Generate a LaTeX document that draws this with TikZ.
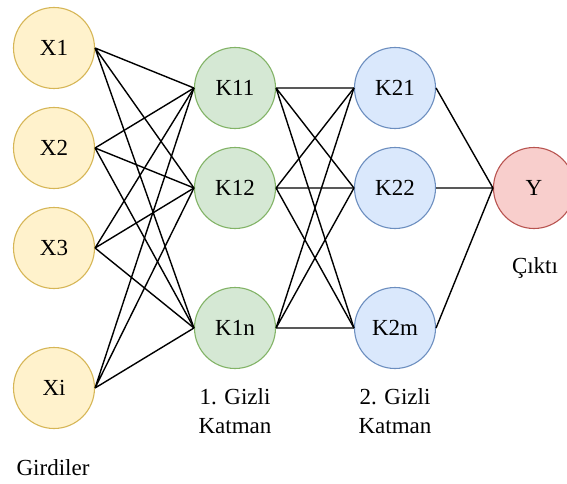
\documentclass[tikz,border=0pt]{standalone}
\usepackage{fontspec}
\setmainfont{Liberation Serif}
\usepackage{tikz}
\usetikzlibrary{calc}

\definecolor{inpfill}{HTML}{FFF2CC}
\definecolor{inpline}{HTML}{D6B656}
\definecolor{hidafill}{HTML}{D5E8D4}
\definecolor{hidaline}{HTML}{82B366}
\definecolor{hidbfill}{HTML}{DAE8FC}
\definecolor{hidbline}{HTML}{6C8EBF}
\definecolor{outfill}{HTML}{F8CECC}
\definecolor{outline}{HTML}{B85450}

\tikzset{
	neuron/.style={circle, minimum size=81pt, inner sep=0pt, line width=1.1pt, font=\fontsize{23}{26}\selectfont},
	inpnode/.style={neuron, draw=inpline, fill=inpfill},
	hidanode/.style={neuron, draw=hidaline, fill=hidafill},
	hidbnode/.style={neuron, draw=hidbline, fill=hidbfill},
	outnode/.style={neuron, draw=outline, fill=outfill},
	layertext/.style={align=center, font=\fontsize{23}{29}\selectfont},
	wire/.style={line width=1.4pt, black}
}

\begin{document}
\begin{tikzpicture}[x=1pt, y=-1pt]
		\useasboundingbox (0,0) rectangle (567,484);
		\node[inpnode] (X1) at (54,48) {X1};
		\node[inpnode] (X2) at (54,148) {X2};
		\node[inpnode] (X3) at (54,248) {X3};
		\node[inpnode] (Xi) at (54,388) {Xi};
		\node[hidanode] (K11) at (235,88) {K11};
		\node[hidanode] (K12) at (235,188) {K12};
		\node[hidanode] (K1n) at (235,328) {K1n};
		\node[hidbnode] (K21) at (395,88) {K21};
		\node[hidbnode] (K22) at (395,188) {K22};
		\node[hidbnode] (K2m) at (395,328) {K2m};
		\node[outnode] (Y) at (534,188) {Y};
		\node[layertext] (girdi) at (53,468) {Girdiler};
		\node[layertext] (gizli1) at (235,411) {1. Gizli\\Katman};
		\node[layertext] (gizli2) at (395,411) {2. Gizli\\Katman};
		\node[layertext] (cikti) at (535,268) {Çıktı};
		\draw[wire] (X1.east) -- (K11.west) (X1.east) -- (K12.west) (X1.east) -- (K1n.west);
		\draw[wire] (X2.east) -- (K11.west) (X2.east) -- (K12.west) (X2.east) -- (K1n.west);
		\draw[wire] (X3.east) -- (K11.west) (X3.east) -- (K12.west) (X3.east) -- (K1n.west);
		\draw[wire] (Xi.east) -- (K11.west) (Xi.east) -- (K12.west) (Xi.east) -- (K1n.west);
		\draw[wire] (K11.east) -- (K21.west) (K11.east) -- (K22.west) (K11.east) -- (K2m.west);
		\draw[wire] (K12.east) -- (K21.west) (K12.east) -- (K22.west) (K12.east) -- (K2m.west);
		\draw[wire] (K1n.east) -- (K21.west) (K1n.east) -- (K22.west) (K1n.east) -- (K2m.west);
		\draw[wire] (K21.east) -- (Y.west) (K22.east) -- (Y.west) (K2m.east) -- (Y.west);
	\end{tikzpicture}
\end{document}
